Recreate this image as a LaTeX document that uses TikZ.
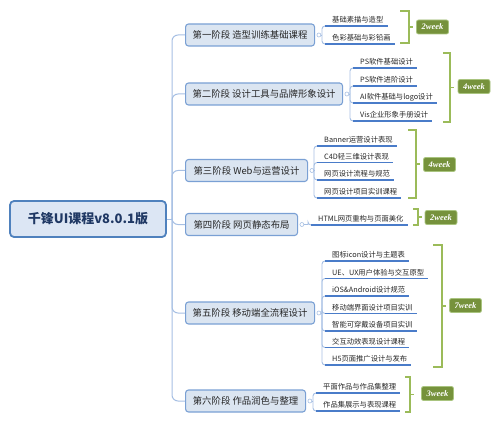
\documentclass[tikz,border=0pt]{standalone}
\usepackage{fontspec}
\setmainfont{Noto Sans CJK SC}
\newfontfamily\wkfont{Liberation Serif}
\usetikzlibrary{calc}
\definecolor{rootfill}{HTML}{DCE6F4}
\definecolor{rootdraw}{HTML}{4F81BD}
\definecolor{roottext}{HTML}{1F3864}
\definecolor{stfill}{HTML}{DBE5F1}
\definecolor{stdraw}{HTML}{7AA0D4}
\definecolor{sttext}{HTML}{262626}
\definecolor{conncol}{HTML}{A6BFE3}
\definecolor{ulcol}{HTML}{4A7CC9}
\definecolor{brcol}{HTML}{9BBB59}
\definecolor{wkfill}{HTML}{76923C}
\definecolor{wkdraw}{HTML}{A9C47F}
\newcommand\lf[5]{%
  \node[leaf, anchor=south west] (#1) at (#3+6,#4) {#5};
  \draw[conn] (#2) |- (#1.south west);
  \draw[uline] ([xshift=-3pt]#1.south west) -- (#1.south east);
}
\newcommand\mybrk[5]{%
  \draw[brk] (#1,#3) -- (#2,#3) -- (#2,#4) -- (#1,#4);
  \draw[brk] (#2,#5) -- ++(4,0);
}
\begin{document}
\begin{tikzpicture}[x=1pt,y=-1pt,
  rootbox/.style={draw=rootdraw, line width=1.8pt, fill=rootfill, rounded corners=4pt,
    minimum width=156pt, minimum height=36pt, text=roottext,
    font=\fontsize{13}{15}\selectfont\bfseries},
  stagebox/.style={draw=stdraw, line width=1.1pt, fill=stfill, rounded corners=3pt,
    minimum height=22pt, text=sttext, anchor=west, inner xsep=4pt,
    font=\fontsize{9.4}{11}\selectfont},
  leaf/.style={inner xsep=4pt, inner ysep=1.5pt, text height=6pt, text depth=1.5pt,
    text=sttext, font=\fontsize{7.3}{8}\selectfont},
  conn/.style={draw=conncol, line width=0.9pt, rounded corners=3pt},
  trunk/.style={draw=conncol, line width=1pt, rounded corners=6pt},
  uline/.style={draw=ulcol, line width=1.2pt},
  dot/.style={circle, draw=conncol, fill=white, line width=0.6pt, inner sep=0pt, minimum size=4pt},
  brk/.style={draw=brcol, line width=1.6pt},
  wk/.style={draw=wkdraw, line width=0.8pt, fill=wkfill, rounded corners=2pt, text=white,
    minimum width=32pt, minimum height=14pt, inner sep=0pt,
    font=\wkfont\bfseries\itshape\fontsize{8.5}{9}\selectfont}
]
\useasboundingbox (0,0) rectangle (500,422);
% root
\node[rootbox] (root) at (88,219) {千锋UI课程v8.0.1版};
\coordinate (tr) at (172,219);
\draw[trunk] (root.east) -- (tr);
% stages
\node[stagebox, minimum width=129pt] (s1) at (185,35) {第一阶段 造型训练基础课程};
\node[stagebox, minimum width=157pt] (s2) at (185,94) {第二阶段 设计工具与品牌形象设计};
\node[stagebox, minimum width=122pt] (s3) at (185,170.5) {第三阶段 Web与运营设计};
\node[stagebox, minimum width=112pt] (s4) at (185,224.5) {第四阶段 网页静态布局};
\node[stagebox, minimum width=129pt] (s5) at (185,313) {第五阶段 移动端全流程设计};
\node[stagebox, minimum width=120pt] (s6) at (185,401) {第六阶段 作品润色与整理};
\foreach \s in {s1,s2,s3,s4,s5,s6} { \draw[trunk] (tr) |- (\s.west); }
% dots and branch points
\foreach \s/\vx in {s1/322,s2/350,s3/314,s4/308,s5/322,s6/313} {
  \node[dot, anchor=west] (o\s) at ([xshift=1.5pt]\s.east) {};
  \coordinate (v\s) at (\vx,0 |- \s.east);
  \draw[conn] (o\s.east) -- (v\s);
}
% stage 1 leaves
\lf{a1}{vs1}{322}{26}{基础素描与造型}
\lf{a2}{vs1}{322}{44}{色彩基础与彩铅画}
% stage 2 leaves
\lf{b1}{vs2}{350}{68}{PS软件基础设计}
\lf{b2}{vs2}{350}{86}{PS软件进阶设计}
\lf{b3}{vs2}{350}{103}{AI软件基础与logo设计}
\lf{b4}{vs2}{350}{121}{Vis企业形象手册设计}
% stage 3 leaves
\lf{c1}{vs3}{314}{146}{Banner运营设计表现}
\lf{c2}{vs3}{314}{162.5}{C4D轻三维设计表现}
\lf{c3}{vs3}{314}{180}{网页设计流程与规范}
\lf{c4}{vs3}{314}{198}{网页设计项目实训课程}
% stage 4 leaf
\lf{d1}{vs4}{308}{225}{HTML网页重构与页面美化}
% stage 5 leaves
\lf{e1}{vs5}{322}{261}{图标icon设计与主题表}
\lf{e2}{vs5}{322}{278.5}{UE、UX用户体验与交互原型}
\lf{e3}{vs5}{322}{296}{iOS\&Android设计规范}
\lf{e4}{vs5}{322}{313.5}{移动端界面设计项目实训}
\lf{e5}{vs5}{322}{331}{智能可穿戴设备项目实训}
\lf{e6}{vs5}{322}{347.5}{交互动效表现设计课程}
\lf{e7}{vs5}{322}{365}{H5页面推广设计与发布}
% stage 6 leaves
\lf{f1}{vs6}{313}{393}{平面作品与作品集整理}
\lf{f2}{vs6}{313}{411}{作品集展示与表现课程}
% brackets
\mybrk{400}{409}{11}{43}{27}
\mybrk{443}{450}{53}{122}{87.5}
\mybrk{408}{416}{130}{198}{164}
\mybrk{413}{418}{209}{225}{217}
\mybrk{433}{442}{245}{367}{306}
\mybrk{405}{410}{377}{412}{394.5}
% week labels
\node[wk] (w1) at (432.5,27) {2week};
\node[wk] (w2) at (474,86.5) {4week};
\node[wk] (w3) at (439.5,164.5) {4week};
\node[wk] (w4) at (441,217.5) {2week};
\node[wk] (w5) at (465.5,305.5) {7week};
\node[wk] (w6) at (437.5,393.5) {3week};
\end{tikzpicture}
\end{document}
